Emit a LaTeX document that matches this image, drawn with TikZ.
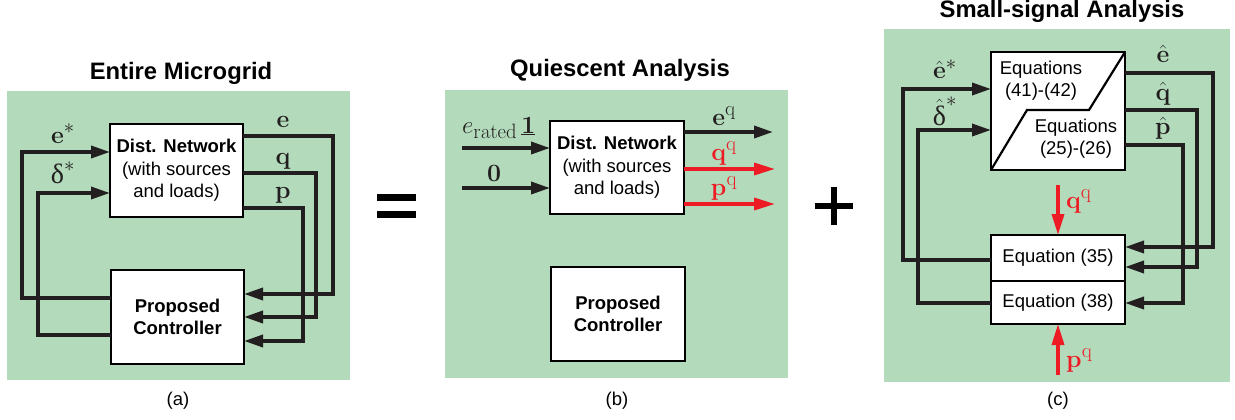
\documentclass[tikz,border=0pt]{standalone}
\usepackage[no-math]{fontspec}
\setmainfont{Liberation Sans}
\newfontfamily\grk{Liberation Serif}
\newcommand{\dlt}{\hbox{\grk\fontsize{28}{28}\selectfont δ}}
\usetikzlibrary{arrows.meta}
\definecolor{bg}{RGB}{179,219,187}
\definecolor{sigred}{RGB}{237,28,36}
\definecolor{linec}{RGB}{35,31,32}
\begin{document}
\begin{tikzpicture}[x=1pt,y=-1pt,
  box/.style={draw=black,line width=2.2pt,fill=white,inner sep=0pt,outer sep=0pt,align=center,font=\fontsize{18.5}{22.5}\selectfont},
  txt/.style={inner sep=0pt,align=center,font=\fontsize{18.5}{22}\selectfont},
  sig/.style={draw=linec,line width=3.5pt},
  arr/.style={sig,-{Triangle[length=19pt,width=12pt]}},
  rarr/.style={draw=sigred,line width=3.5pt,-{Triangle[length=21pt,width=12pt]}},
  lab/.style={font=\fontsize{24.88}{30}\selectfont,inner sep=0pt,anchor=base,text=linec},
  rlab/.style={lab,text=sigred},
  ttl/.style={font=\fontsize{23.8}{28}\selectfont\bfseries,anchor=base,inner sep=0pt},
  captxt/.style={font=\fontsize{18.5}{22}\selectfont,inner sep=0pt}]
\useasboundingbox (0,0) rectangle (1235,420);
% backgrounds
\fill[bg] (7,91) rectangle (350,380);
\fill[bg] (445,90) rectangle (788,378);
\fill[bg] (884,29) rectangle (1230,382);
% titles and captions
\node[ttl] (ta) at (181,80) {Entire Microgrid};
\node[ttl] (tb) at (620,77) {Quiescent Analysis};
\node[ttl] (tc) at (1062,18) {Small-signal Analysis};
\node[captxt] (ca) at (178,401) {(a)};
\node[captxt] (cb) at (617,401) {(b)};
\node[captxt] (cc) at (1058,401) {(c)};
% = and +
\fill (377,194) rectangle (416,201);
\fill (377,211) rectangle (416,218);
\fill (815,203) rectangle (853,209);
\fill (831,187) rectangle (837,225);
% ---------- panel (a)
\node[box,minimum width=133pt,minimum height=93pt] (dista) at (176.5,170.5)
  {\textbf{Dist. Network}\\(with sources\\and loads)};
\node[box,minimum width=133pt,minimum height=94pt] (ctrla) at (177.5,317)
  {\textbf{Proposed}\\\textbf{Controller}};
\draw[arr] (ctrla.west |- 0,298) -| (22,152) -- (dista.west |- 0,152);
\draw[arr] (ctrla.west |- 0,335) -| (38,193) -- (dista.west |- 0,193);
\draw[arr] (dista.east |- 0,136) -| (333,294) -- (ctrla.east |- 0,294);
\draw[arr] (dista.east |- 0,173) -| (316,317) -- (ctrla.east |- 0,317);
\draw[arr] (dista.east |- 0,208) -| (303,341) -- (ctrla.east |- 0,341);
\node[lab] (la1) at (63,143) {$\mathbf{e}^*$};
\node[lab] (la2) at (63,183) {$\dlt^*$};
\node[lab] (la3) at (283,127) {$\mathbf{e}$};
\node[lab] (la4) at (283,164) {$\mathbf{q}$};
\node[lab] (la5) at (283,198) {$\mathbf{p}$};
% ---------- panel (b)
\node[box,minimum width=134pt,minimum height=93pt] (distb) at (617,167.5)
  {\textbf{Dist. Network}\\(with sources\\and loads)};
\node[box,minimum width=134pt,minimum height=94pt] (ctrlb) at (618,314)
  {\textbf{Proposed}\\\textbf{Controller}};
\coordinate (ib1) at (462,148);
\coordinate (ib2) at (462,188);
\coordinate (ob1) at (773,132);
\coordinate (ob2) at (775,169);
\coordinate (ob3) at (775,204);
\draw[arr] (ib1) -- (distb.west |- ib1);
\draw[arr] (ib2) -- (distb.west |- ib2);
\draw[arr] (distb.east |- ob1) -- (ob1);
\draw[rarr] (distb.east |- ob2) -- (ob2);
\draw[rarr] (distb.east |- ob3) -- (ob3);
\node[lab,anchor=base west] (lb1) at (462,133) {$e_{\mathrm{rated}}\,\underline{\mathbf{1}}$};
\node[lab] (lb2) at (494,181) {$\mathbf{0}$};
\node[lab] (lb3) at (724,125) {$\mathbf{e}^{\mathrm{q}}$};
\node[rlab] (lb4) at (724,160) {$\mathbf{q}^{\mathrm{q}}$};
\node[rlab] (lb5) at (724,195) {$\mathbf{p}^{\mathrm{q}}$};
% ---------- panel (c)
\node[box,minimum width=134pt,minimum height=118pt] (eqtop) at (1058,111) {};
\draw[draw=black,line width=2.2pt] (eqtop.south west) -- (1027,110) -- (1089,110) -- (eqtop.north east);
\node[txt] (eqa) at (1041,81) {Equations\\(41)-(42)};
\node[txt] (eqb) at (1076,139) {Equations\\(25)-(26)};
\node[box,minimum width=134pt,minimum height=46pt] (eq35) at (1058,258) {Equation (35)};
\node[box,minimum width=134pt,minimum height=43pt] (eq38) at (1058,302.5) {Equation (38)};
\draw[arr] (eq35.west |- 0,260) -| (903,89) -- (eqtop.west |- 0,89);
\draw[arr] (eq38.west |- 0,303) -| (918,130) -- (eqtop.west |- 0,130);
\draw[arr] (eqtop.east |- 0,73) -| (1213,247) -- (eq35.east |- 0,247);
\draw[arr] (eqtop.east |- 0,110) -| (1197,267) -- (eq35.east |- 0,267);
\draw[arr] (eqtop.east |- 0,145) -| (1183,303) -- (eq38.east |- 0,303);
\coordinate (qin) at (1058,185);
\coordinate (pin) at (1058,375);
\draw[rarr] (qin) -- (eq35.north);
\draw[rarr] (pin) -- (eq38.south);
\node[rlab,anchor=base west] (lc1) at (1066,208) {$\mathbf{q}^{\mathrm{q}}$};
\node[rlab,anchor=base west] (lc2) at (1066,367) {$\mathbf{p}^{\mathrm{q}}$};
\node[lab] (lc3) at (945,79) {$\hat{\mathbf{e}}^*$};
\node[lab] (lc4) at (945,125) {$\hat{\dlt}^*$};
\node[lab] (lc5) at (1163,63) {$\hat{\mathbf{e}}$};
\node[lab] (lc6) at (1163,100) {$\hat{\mathbf{q}}$};
\node[lab] (lc7) at (1163,135) {$\hat{\mathbf{p}}$};
\end{tikzpicture}
\end{document}
